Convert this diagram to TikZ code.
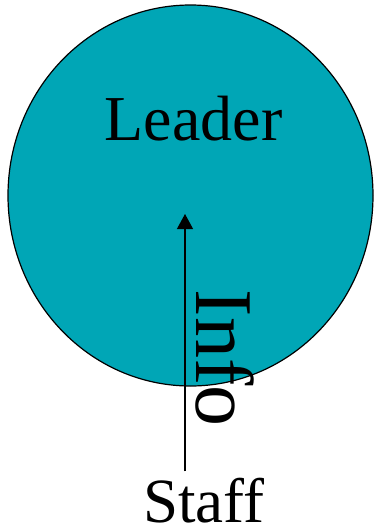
\documentclass[tikz,border=0pt]{standalone}
\usepackage{fontspec}
\setmainfont{Liberation Serif}
\definecolor{leaderteal}{RGB}{0,166,182}
\usetikzlibrary{arrows.meta,positioning,shapes.geometric}

\begin{document}
\begin{tikzpicture}[x=1pt, y=-1pt]
  \useasboundingbox (0,0) rectangle (375,530);

  % Leader circle
  \node[draw=black, fill=leaderteal, ellipse, line width=1.2pt, minimum width=365pt, minimum height=381pt, inner sep=0pt] (leader) at (190.5,195.5) {};
  \node[font=\fontsize{64}{64}\selectfont, anchor=base, inner sep=0pt] (ldr) at (193.5,140) {Leader};

  % Staff and info arrow
  \node[font=\fontsize{63}{63}\selectfont, anchor=base, inner sep=0pt] (staff) at (204,522) {Staff};
  \coordinate (tip) at (185,214);
  \draw[-{Triangle[length=15pt, width=16pt]}, line width=1.2pt] (staff.north -| tip) ++(0,-6) -- (tip);
  \node[font=\fontsize{82}{82}\selectfont, rotate=-90, inner sep=0pt] (info) at (225,358) {Info};
\end{tikzpicture}
\end{document}
